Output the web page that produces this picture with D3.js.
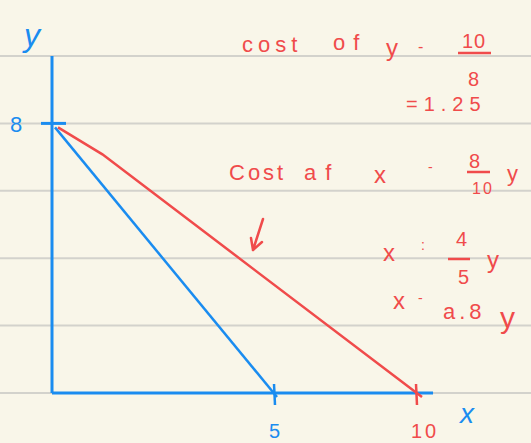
<!DOCTYPE html>
<html>
<head>
<meta charset="utf-8">
<script src="https://cdn.jsdelivr.net/npm/d3@7"></script>
<style>
  html, body { margin: 0; padding: 0; background: #f9f6e9; }
  svg { display: block; }
  text { font-family: "Liberation Sans", sans-serif; }
</style>
</head>
<body>
<svg id="chart" width="531" height="443"></svg>
<script>
// budget lines (hand sketch): y intercept 8, x intercepts 5 and 10
const blueLine = [{x: 0, y: 8}, {x: 5, y: 0}];
const redLine  = [{x: 0, y: 8}, {x: 1.0, y: 7.2}, {x: 10, y: 0}];
const xTicks   = [5, 10];
const yTicks   = [8];
const ruleRows = [0, 2, 4, 6, 8, 10];   // notebook lines sit on even y values
const xAxisEnd = 10.6, yAxisEnd = 10;

const notes = [
  // [text, x, y, size, letter spacing]
  ['cost', 242, 52, 22, 5], ['of', 333, 50, 22, 8], ['y', 386, 56, 24, 0], ['-', 418, 52, 16, 0],
  ['10', 462, 48, 20, 1], ['8', 468, 86, 20, 0], ['=1.25', 406, 111, 20, 6],
  ['Cost', 229, 180, 22, 3], ['af', 304, 180, 22, 9], ['x', 374, 183, 24, 0], ['-', 428, 172, 14, 0],
  ['8', 469, 168, 20, 0], ['10', 472, 194, 16, 2], ['y', 507, 181, 22, 0],
  ['x', 383, 261, 24, 0], [':', 421, 250, 14, 0], ['4', 456, 246, 20, 0], ['5', 458, 284, 20, 0], ['y', 487, 268, 24, 0],
  ['x', 393, 309, 24, 0], ['-', 418, 303, 14, 0], ['a.8', 443, 319, 22, 4], ['y', 500, 328, 30, 0]
];
const fracBars = [[458, 491, 53], [467, 490, 172], [448, 470, 259]];

const blue = '#1a8cf0', red = '#f04b4b';
const svg = d3.select('#chart');

const x = d3.scaleLinear().domain([0, 5, 10]).range([52, 274, 416]);
const y = d3.scaleLinear().domain([0, 10]).range([393, 56]);

// paper rules
svg.append('g').selectAll('line').data(ruleRows).enter().append('line')
  .attr('x1', 0).attr('x2', 531)
  .attr('y1', d => y(d)).attr('y2', d => y(d))
  .attr('stroke', '#d3d2cc').attr('stroke-width', 2);

// axes
svg.append('line').attr('x1', x(0)).attr('x2', x(0)).attr('y1', y(0)).attr('y2', y(yAxisEnd))
  .attr('stroke', blue).attr('stroke-width', 3);
svg.append('line').attr('x1', x(0)).attr('x2', x(xAxisEnd)).attr('y1', y(0)).attr('y2', y(0))
  .attr('stroke', blue).attr('stroke-width', 3);

// ticks
svg.append('g').selectAll('line').data(yTicks).enter().append('line')
  .attr('x1', x(0) - 11).attr('x2', x(0) + 14).attr('y1', d => y(d)).attr('y2', d => y(d))
  .attr('stroke', blue).attr('stroke-width', 3);
svg.append('g').selectAll('line').data(xTicks).enter().append('line')
  .attr('x1', d => x(d)).attr('x2', d => x(d) + 1)
  .attr('y1', d => y(0) - 9).attr('y2', d => y(0) + 12)
  .attr('stroke', (d, i) => i === 0 ? blue : red).attr('stroke-width', 2.5);

// budget lines
const line = d3.line().x(d => x(d.x)).y(d => y(d.y));
svg.append('path').datum(blueLine).attr('d', line)
  .attr('transform', 'translate(3,4)')
  .attr('fill', 'none').attr('stroke', blue).attr('stroke-width', 2.5);
svg.append('path').datum(redLine).attr('d', line)
  .attr('transform', 'translate(6,4)')
  .attr('fill', 'none').attr('stroke', red).attr('stroke-width', 2.5);

// arrow
svg.append('path').attr('d', 'M263,219 L253,250 M251,238 L253,250 L262,242')
  .attr('fill', 'none').attr('stroke', red).attr('stroke-width', 2.5)
  .attr('stroke-linecap', 'round').attr('stroke-linejoin', 'round');

// axis labels
svg.append('text').attr('x', 24).attr('y', 46).attr('font-size', 32).attr('fill', blue)
  .attr('font-style', 'italic').text('y');
svg.append('g').selectAll('text').data(yTicks).enter().append('text')
  .attr('x', 10).attr('y', d => y(d) + 9).attr('font-size', 22).attr('fill', blue).text(d => d);
svg.append('g').selectAll('text').data(xTicks).enter().append('text')
  .attr('x', d => x(d) - 5).attr('y', 438).attr('font-size', 20)
  .attr('fill', (d, i) => i === 0 ? blue : red).attr('letter-spacing', (d, i) => i === 0 ? 0 : 3)
  .text(d => d);
svg.append('text').attr('x', 460).attr('y', 423).attr('font-size', 28).attr('fill', blue)
  .attr('font-style', 'italic').text('x');

// red notes
svg.append('g').selectAll('text').data(notes).enter().append('text')
  .attr('x', d => d[1]).attr('y', d => d[2]).attr('font-size', d => d[3])
  .attr('letter-spacing', d => d[4])
  .attr('fill', red).text(d => d[0]);
svg.append('g').selectAll('line').data(fracBars).enter().append('line')
  .attr('x1', d => d[0]).attr('x2', d => d[1]).attr('y1', d => d[2]).attr('y2', d => d[2])
  .attr('stroke', red).attr('stroke-width', 2.5);
</script>
</body>
</html>
